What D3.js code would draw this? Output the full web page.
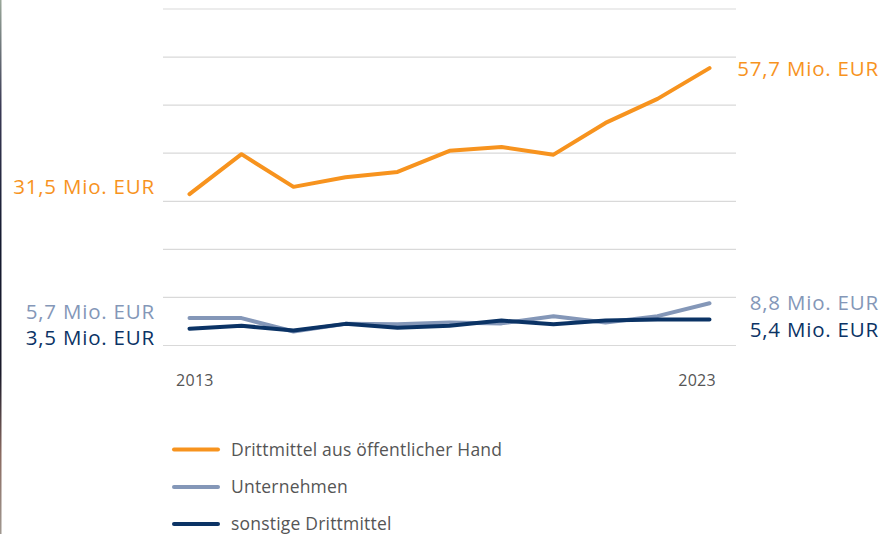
<!DOCTYPE html>
<html><head><meta charset="utf-8">
<script src="https://cdn.jsdelivr.net/npm/d3@7"></script>
<style>body{margin:0;background:#fff;}svg{display:block;font-family:"Open Sans",sans-serif;}</style>
</head><body>
<svg id="c" width="895" height="534"></svg>
<script>
const years = [2013,2014,2015,2016,2017,2018,2019,2020,2021,2022,2023];
const oeffentlich = [31.5,39.8,33.0,35.0,36.1,40.5,41.3,39.7,46.3,51.3,57.7];
const unternehmen = [5.7,5.7,2.9,4.5,4.4,4.8,4.6,6.1,4.8,6.1,8.8];
const sonstige = [3.5,4.1,3.1,4.5,3.7,4.1,5.2,4.4,5.2,5.4,5.4];
const gridValues = [0,10,20,30,40,50,60,70];
const seriesNames = ["Drittmittel aus öffentlicher Hand","Unternehmen","sonstige Drittmittel"];
const startLabels = ["31,5 Mio. EUR","5,7 Mio. EUR","3,5 Mio. EUR"];
const endLabels = ["57,7 Mio. EUR","8,8 Mio. EUR","5,4 Mio. EUR"];
const colors = ["#F7931E","#8497B8","#0B3365"];

const svg = d3.select("#c");
const x = d3.scaleLinear().domain([2013,2023]).range([189.5,709.5]);
const y = d3.scaleLinear().domain([0,70]).range([345.5,9]);

// left edge strip
const defs = svg.append("defs");
const lg = defs.append("linearGradient").attr("id","edge").attr("x1",0).attr("x2",0).attr("y1",0).attr("y2",1);
[[0,"#9aa89a"],[0.2,"#3a3a55"],[0.45,"#141a30"],[0.7,"#1a1a2a"],[0.85,"#8a6a60"],[1,"#a09890"]].forEach(s=>lg.append("stop").attr("offset",s[0]).attr("stop-color",s[1]));
svg.append("rect").attr("x",0).attr("y",0).attr("width",1.5).attr("height",534).attr("fill","url(#edge)");

// gridlines
svg.append("g").selectAll("line").data(gridValues).join("line")
  .attr("x1",163).attr("x2",736)
  .attr("y1",d=>y(d)).attr("y2",d=>y(d))
  .attr("stroke","#d9d9d9").attr("stroke-width",1.2);

const line = d3.line().x((d,i)=>x(years[i])).y(d=>y(d));
const data = [oeffentlich,unternehmen,sonstige];
[1,2,0].forEach(k=>{
  svg.append("path").datum(data[k]).attr("d",line)
    .attr("fill","none").attr("stroke",colors[k]).attr("stroke-width",4)
    .attr("stroke-linejoin","round").attr("stroke-linecap","round");
});

const startY = [193.5,318.5,345];
startLabels.forEach((t,i)=>{
  svg.append("text").attr("x",155).attr("y",startY[i]).attr("text-anchor","end")
    .attr("font-size",20.5).attr("letter-spacing",0.8).attr("fill",colors[i]).text(t);
});
const endY = [76,310,337];
endLabels.forEach((t,i)=>{
  svg.append("text").attr("x",879).attr("y",endY[i]).attr("text-anchor","end")
    .attr("font-size",20.5).attr("letter-spacing",0.8).attr("fill",colors[i]).text(t);
});

svg.append("text").attr("x",176).attr("y",386).attr("font-size",16).attr("letter-spacing",0.3).attr("fill","#555").text(years[0]);
svg.append("text").attr("x",716).attr("y",386).attr("text-anchor","end").attr("font-size",16).attr("letter-spacing",0.3).attr("fill","#555").text(years[years.length-1]);

const legY = [449.5,487,524];
seriesNames.forEach((n,i)=>{
  svg.append("line").attr("x1",174).attr("x2",218).attr("y1",legY[i]).attr("y2",legY[i])
    .attr("stroke",colors[i]).attr("stroke-width",4).attr("stroke-linecap","round");
  svg.append("text").attr("x",231).attr("y",legY[i]+6).attr("font-size",17.5).attr("letter-spacing",0.2).attr("fill","#555").text(n);
});
</script>
</body></html>
